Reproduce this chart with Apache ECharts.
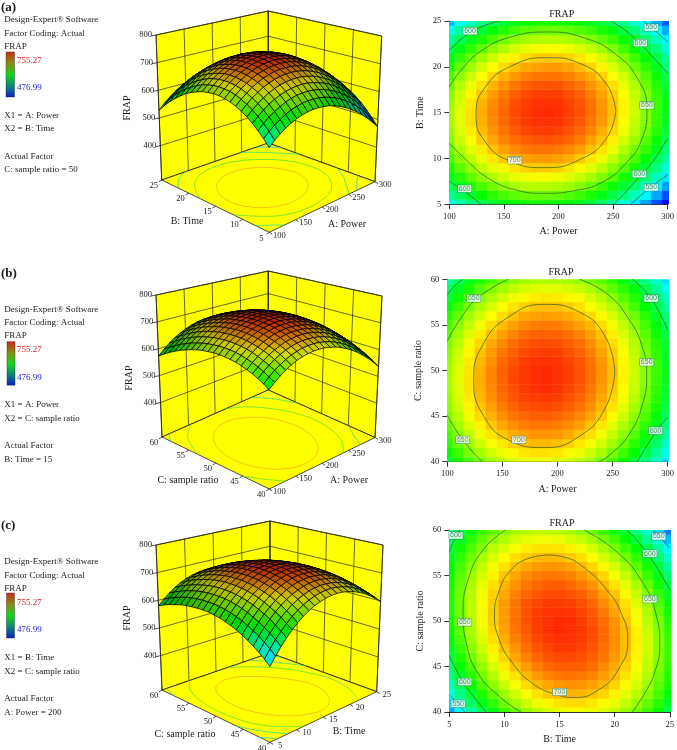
<!doctype html>
<html><head><meta charset="utf-8"><style>html,body{margin:0;background:#fff}#c{width:677px;height:750px}</style>
<script src="https://cdn.jsdelivr.net/npm/echarts@6/dist/echarts.min.js"></script></head><body><div id="c"></div><script>
const powerSamples=[100,110,120,130,140,150,160,170,180,190,200,210,220,230,240,250,260,270,280,290,300];
const timeSamples=[5,6,7,8,9,10,11,12,13,14,15,16,17,18,19,20,21,22,23,24,25];
const ratioSamples=[40,41,42,43,44,45,46,47,48,49,50,51,52,53,54,55,56,57,58,59,60];
const powerTicks=[100,150,200,250,300],timeTicks=[5,10,15,20,25],ratioTicks=[40,45,50,55,60],frapTicks=[400,500,600,700,800];
const frapMin=476.99,frapMax=755.27;
const palette=['#0000ff','#00ffff','#00ff00','#ffff00','#ff0000'];
const floorColors={700:'#f2b01e',650:'#5fe03c',600:'#2fdc8c',550:'#2fc8c8'};
// rows run along the second factor, columns along the first
const frapPowerTime=[
[551,568,582,594,604,612,618,621,623,622,619,615,607,598,587,573,558,540,520,498,474],
[573,590,604,616,627,635,640,644,646,645,643,638,631,622,611,597,582,564,544,522,498],
[592,609,624,636,646,655,661,665,666,666,663,659,652,643,632,619,603,586,566,544,520],
[609,626,641,654,664,672,678,682,684,684,682,677,670,662,651,638,622,605,585,564,540],
[624,641,656,669,679,688,694,698,700,700,698,693,687,678,667,654,639,622,602,581,557],
[636,653,668,681,692,700,707,711,713,713,711,707,700,692,681,668,653,636,617,595,572],
[646,663,678,691,702,711,717,722,724,724,722,718,712,703,693,680,665,648,629,608,584],
[653,671,686,699,710,719,725,730,732,733,731,727,721,712,702,689,674,658,639,617,594],
[658,676,691,704,715,724,731,736,738,739,737,733,727,719,708,696,681,665,646,625,602],
[661,678,694,707,718,727,734,739,742,742,741,737,731,723,713,700,686,669,651,630,607],
[661,679,694,708,719,728,735,740,743,744,742,738,733,725,715,702,688,672,653,632,609],
[658,676,692,706,717,726,734,739,742,742,741,737,732,724,714,702,688,672,653,632,610],
[654,672,688,701,713,722,730,735,738,739,738,734,729,721,711,699,685,669,651,630,607],
[646,665,681,694,706,715,723,729,732,733,732,728,723,715,706,694,680,664,646,625,603],
[637,655,671,685,697,707,714,720,723,724,723,720,715,708,698,686,673,657,638,618,596],
[625,643,659,674,686,695,703,709,712,713,713,710,704,697,688,676,662,646,629,609,586],
[610,629,645,660,672,682,689,695,699,700,699,697,692,684,675,664,650,634,617,597,575],
[593,612,629,643,655,665,673,679,683,684,684,681,676,669,660,649,635,620,602,582,560],
[574,593,610,624,637,647,655,661,665,666,665,663,659,652,643,631,618,603,585,565,544],
[552,571,588,603,615,626,634,640,644,646,645,643,638,632,623,612,599,583,566,546,524],
[528,547,564,579,592,602,611,617,621,623,623,620,616,609,600,590,576,561,544,525,503]];
const frapPowerRatio=[
[604,621,636,649,660,669,675,679,681,681,679,674,668,659,648,635,620,602,583,561,537],
[616,633,649,661,672,681,687,692,694,694,692,687,681,672,661,648,633,616,596,575,551],
[627,644,659,672,683,692,698,703,705,705,703,699,692,684,673,660,645,628,608,587,563],
[636,653,668,682,692,701,708,712,715,715,713,709,702,694,683,670,655,638,619,597,574],
[643,661,676,689,700,709,716,721,723,723,721,717,711,702,692,679,664,647,628,607,583],
[650,667,683,696,707,716,723,727,730,730,728,724,718,710,699,687,672,655,636,614,591],
[655,672,688,701,712,721,728,733,735,736,734,730,724,716,705,693,678,661,642,621,597],
[658,676,691,705,716,725,732,737,739,740,738,734,728,720,710,697,683,666,647,626,602],
[660,678,693,707,718,727,734,739,742,743,741,737,731,723,713,700,686,669,650,629,606],
[661,678,694,708,719,728,736,740,743,744,742,739,733,725,715,702,688,671,652,631,608],
[660,678,693,707,719,728,735,740,743,744,742,739,733,725,715,703,688,672,653,632,609],
[657,675,691,705,716,726,733,738,741,742,741,737,732,724,714,701,687,671,652,631,608],
[654,672,688,702,713,723,730,735,738,739,738,734,729,721,711,699,685,668,650,629,606],
[649,667,683,697,709,718,726,731,734,735,734,730,725,717,707,695,681,665,646,626,603],
[642,660,677,691,702,712,719,725,728,729,728,725,719,711,702,690,676,659,641,620,598],
[634,653,669,683,695,704,712,717,721,722,721,717,712,705,695,683,669,653,634,614,591],
[625,643,660,674,686,695,703,709,712,713,712,709,704,696,687,675,661,645,627,606,584],
[614,633,649,663,675,685,693,698,702,703,702,699,694,686,677,665,651,635,617,597,574],
[602,620,637,651,663,673,681,687,690,692,691,688,683,675,666,654,640,625,606,586,564],
[588,607,623,638,650,660,668,674,677,679,678,675,670,663,653,642,628,612,594,574,552],
[573,592,609,623,635,645,653,659,663,664,664,661,656,649,639,628,614,599,581,561,538]];
const frapTimeRatio=[
[522,549,573,595,614,631,646,658,668,675,680,683,683,681,676,669,659,648,633,617,598],
[539,565,589,610,629,646,660,672,681,688,693,695,695,692,687,680,670,658,643,626,607],
[554,580,603,624,643,659,673,684,693,700,704,706,705,702,697,689,679,667,652,634,615],
[567,593,616,637,655,671,684,695,704,710,714,716,715,711,706,697,687,674,659,641,621],
[579,604,627,648,665,681,694,705,713,719,722,724,722,719,713,704,693,680,664,646,626],
[590,615,637,657,675,690,703,713,721,727,730,730,729,725,718,709,698,685,669,650,629],
[599,624,646,665,683,697,710,720,727,733,735,736,734,729,723,713,702,688,671,653,631],
[607,631,653,672,689,703,715,725,732,737,740,740,737,733,725,716,704,689,673,654,632],
[613,637,659,677,694,708,720,729,736,740,742,742,739,734,727,717,704,690,673,653,631],
[619,642,663,681,697,711,723,731,738,742,744,743,740,735,727,716,704,689,671,651,629],
[622,645,666,684,700,713,724,733,739,742,744,743,739,733,725,715,702,686,668,648,625],
[625,647,667,685,700,713,724,733,738,741,742,741,737,731,722,711,698,682,664,643,620],
[625,647,667,685,700,713,723,732,736,739,739,738,734,727,718,707,693,677,658,637,614],
[624,646,666,683,698,710,720,727,732,735,735,733,729,722,712,701,687,670,651,630,606],
[622,644,663,680,694,706,715,723,727,730,730,727,722,715,705,693,679,662,642,621,597],
[619,640,659,675,689,701,710,717,721,723,722,720,714,707,697,684,669,652,632,610,586],
[614,635,653,669,683,694,703,709,713,715,714,711,705,697,687,674,659,641,621,599,574],
[607,628,646,662,675,686,694,700,704,705,704,700,694,686,675,662,647,629,608,585,560],
[600,620,637,653,666,676,684,690,693,694,693,689,682,674,662,649,633,615,594,571,545],
[591,610,628,643,655,665,673,678,681,682,680,675,669,660,648,634,618,599,578,555,529],
[580,599,616,631,643,653,660,665,668,668,666,661,654,645,633,618,602,583,561,537,511]];
// contour lines, [first factor, second factor]
const contoursA=[
{level:700,points:[[252.5,15.2],[244,18.1],[221,20.3],[190,21],[157,20.1],[133,17.8],[124.5,14.8],[133,11.8],[156,9.7],[187,9],[220,9.9],[244,12.2],[252.5,15.2]]},
{level:650,points:[[100,17.8],[112,19.8],[130,21.8],[155,23.2],[190,23.8],[225,23.1],[252,21.4],[272,18.8],[281,15.3],[276,12],[262,9.5],[240,7.4],[215,6.5],[187,6.2],[160,6.6],[135,7.9],[115,9.9],[100,11.65]]},
{level:600,points:[[100,21.8],[115,23.4],[130,24.4],[146,25]]},
{level:600,points:[[248,25],[262,23.9],[275,22.5],[287,21],[300,19.3]]},
{level:600,points:[[300,12.2],[286,9.6],[274,8],[262,6.4],[251,5]]},
{level:600,points:[[100,7.5],[114,6.4],[129,5]]},
{level:550,points:[[278,25],[288,24],[300,22.7]]},
{level:550,points:[[300,8.2],[285,6.9],[266,5]]}];
const contoursB=[
{level:700,points:[[252,49.85],[243.4,53.7],[220,56.4],[188,57.25],[156,55.9],[132.6,52.9],[124,48.95],[132.6,45.1],[156,42.35],[188,41.55],[220,42.8],[243.4,45.9],[252,49.85]]},
{level:650,points:[[100,53.2],[112,55.7],[128,58],[155.5,60]]},
{level:650,points:[[100,45.1],[114,42.4],[131.6,40]]},
{level:650,points:[[220,60],[245,58.4],[265,55.6],[277,52.6],[281,49.7],[277,46.2],[265,43],[250,41],[238,40]]},
{level:600,points:[[100,58.3],[107,59.3],[114,60]]},
{level:600,points:[[268,60],[285,57.9],[300,54.4]]},
{level:600,points:[[300,44.9],[289,43.2],[272.5,40]]}];
const contoursC=[
{level:700,points:[[14,57.25],[12,56.8],[10.45,55.4],[9.55,53.4],[9.1,50.8],[9.55,47.9],[10.75,45.35],[12.55,43.15],[14.5,42],[16.4,41.6],[18.5,42.4],[20.3,44.6],[21.2,47.9],[20.6,50.85],[19.3,53.4],[17.3,55.8],[15.5,57],[14,57.25]]},
{level:650,points:[[10.1,60],[8.05,57.8],[6.7,54.5],[6.25,50.8],[6.55,47.55],[7.6,44.25],[9.55,41.7],[11.5,40]]},
{level:650,points:[[17.2,60],[20,57.8],[22.4,54.5],[23.8,50.5],[24.1,47.4],[23.6,44.25],[22.7,42],[21.6,40]]},
{level:600,points:[[5,57.6],[5.65,59.45],[5.95,60]]},
{level:600,points:[[21.1,60],[23,57.4],[25,53.4]]},
{level:600,points:[[5,46.25],[6.25,43.3],[8.35,40]]},
{level:550,points:[[5,41.9],[5.8,40.9],[6.4,40]]},
{level:550,points:[[23.45,60],[24.2,59.1],[25,58]]}];
const contourLabelsA=[[119,23.9,600],[275,22.6,600],[285,24.3,550],[281,15.8,650],[160,9.8,700],[274,8.3,600],[114,6.7,600],[285,6.85,550]];
const contourLabelsB=[[124,57.9,650],[285,57.9,600],[281,50.9,650],[289,43.4,600],[114,42.4,650],[165,42.4,700]];
const contourLabelsC=[[5.6,59.4,600],[24,59.3,550],[23.2,57.4,600],[23.2,52.4,650],[6.4,49.85,650],[6.4,43.3,600],[5.8,40.9,550],[15,42.2,700]];

const SERIF='"Liberation Serif","Times New Roman",serif';
const panels=[
{tag:'(a)',tagY:8,lines:[['Design-Expert\u00ae Software',20],['Factor Coding: Actual',33.5],['FRAP',47],['X1 = A: Power',115.5],['X2 = B: Time',129],['Actual Factor',156.5],['C: sample ratio = 50',170]],
 bar:[6,52,8.5,45],hi:60.5,lo:88,
 F:[269.3,232.3],R:[375,181.7],L:[161.7,180],K:[268.3,143],FT:[269,71],RT:[381.7,36],LT:[156,35],KT:[268.3,11],zBase:276,
 grid:{left:449.3,top:21,width:221.4,height:183.3},xs:powerSamples,ys:timeSamples,z:frapPowerTime,uTicks:powerTicks,vTicks:timeTicks,contours:contoursA,labels:contourLabelsA,
 xName:'A: Power',yName:'B: Time',xT:[347,224],yT:[187,221.7],fT:[127,108],titleX:556.7,titleY:4},
{tag:'(b)',tagY:274,lines:[['Design-Expert\u00ae Software',309.5],['Factor Coding: Actual',323],['FRAP',336],['X1 = A: Power',405],['X2 = C: sample ratio',419],['Actual Factor',446],['B: Time = 15',459.5]],
 bar:[7,341.7,8,43.5],hi:350,lo:378,
 F:[269.3,489],R:[375,437.5],L:[162,437],K:[268.3,390],FT:[269,331],RT:[382,296],LT:[156,295],KT:[268.3,271],zBase:272,
 grid:{left:447.3,top:279.3,width:223.4,height:182.4},xs:powerSamples,ys:ratioSamples,z:frapPowerRatio,uTicks:powerTicks,vTicks:ratioTicks,contours:contoursB,labels:contourLabelsB,
 xName:'A: Power',yName:'C: sample ratio',xT:[349,480],yT:[188,480.5],fT:[129,378],titleX:556,titleY:262},
{tag:'(c)',tagY:526,lines:[['Design-Expert\u00ae Software',562],['Factor Coding: Actual',576],['FRAP',589],['X1 = B: Time',657.5],['X2 = C: sample ratio',671.5],['Actual Factor',699],['A: Power = 200',712.5]],
 bar:[6.5,593,8,45],hi:603,lo:630,
 F:[270,742.3],R:[376.7,691.7],L:[162,690],K:[270,653],FT:[270,581],RT:[383,545],LT:[156,545],KT:[270,521],zBase:276,
 grid:{left:449.3,top:530,width:222.7,height:182},xs:timeSamples,ys:ratioSamples,z:frapTimeRatio,uTicks:timeTicks,vTicks:ratioTicks,contours:contoursC,labels:contourLabelsC,
 xName:'B: Time',yName:'C: sample ratio',xT:[349,731.7],yT:[185,734],fT:[127,618],titleX:557,titleY:513}
];
const shade=z=>echarts.color.lerp(Math.max(0,Math.min(1,(z-frapMin)/(frapMax-frapMin))),palette);

function sceneItem(p){return function(params,api){
 const xr=[p.xs[0],p.xs[p.xs.length-1]],yr=[p.ys[0],p.ys[p.ys.length-1]];
 const bil=(a,b,c,d,u,v,k)=>(a[k]*(1-u)+b[k]*u)*(1-v)+(c[k]*(1-u)+d[k]*u)*v;
 const pr=(x,y,z)=>{const u=(x-xr[0])/(xr[1]-xr[0]),v=(y-yr[0])/(yr[1]-yr[0]),w=(z-p.zBase)/(800-p.zBase);
  const c=k=>bil(p.F,p.R,p.L,p.K,u,v,k)*(1-w)+bil(p.FT,p.RT,p.LT,p.KT,u,v,k)*w;
  return api.coord([c(0),c(1)]);};
 const at=q=>api.coord(q);
 const kids=[];
 const line=(pts,stroke,lw,smooth)=>kids.push({type:'polyline',silent:true,shape:{points:pts,smooth:smooth||0},style:{stroke,lineWidth:lw,fill:null}});
 const text=(t,q,o)=>{const c=at(q);kids.push({type:'text',silent:true,x:c[0],y:c[1],rotation:o&&o.rot||0,style:Object.assign({text:String(t),font:(o&&o.font)||('9px '+SERIF),fill:'#1a1a1a',align:'left',verticalAlign:'middle'},o&&o.style)});};
 const x0=xr[0],x1=xr[1],y0=yr[0],y1=yr[1];
 const poly=(pts,fill)=>kids.push({type:'polygon',silent:true,shape:{points:pts},style:{fill,stroke:'#000',lineWidth:.7}});
 poly([pr(x0,y1,p.zBase),pr(x1,y1,p.zBase),pr(x1,y1,800),pr(x0,y1,800)],'#ffff00');
 poly([pr(x1,y0,p.zBase),pr(x1,y1,p.zBase),pr(x1,y1,800),pr(x1,y0,800)],'#ffff00');
 poly([pr(x0,y0,p.zBase),pr(x1,y0,p.zBase),pr(x1,y1,p.zBase),pr(x0,y1,p.zBase)],'#ffff00');
 const wall='#2a2a10';
 frapTicks.forEach(z=>{line([pr(x0,y1,z),pr(x1,y1,z),pr(x1,y0,z)],wall,.7);
  const a=pr(x0,y1,z);kids.push({type:'line',silent:true,shape:{x1:a[0]-5,y1:a[1]+1,x2:a[0],y2:a[1]},style:{stroke:'#000',lineWidth:.7}});
  kids.push({type:'text',silent:true,x:a[0]-4,y:a[1],style:{text:String(z),font:'8.5px '+SERIF,fill:'#1a1a1a',align:'right',verticalAlign:'middle'}});});
 p.uTicks.forEach(t=>{line([pr(t,y1,p.zBase),pr(t,y1,800)],wall,.7);
  const a=pr(t,y0,p.zBase);kids.push({type:'line',silent:true,shape:{x1:a[0],y1:a[1],x2:a[0]+3,y2:a[1]+2},style:{stroke:'#000',lineWidth:.7}});
  kids.push({type:'text',silent:true,x:a[0]+10,y:a[1]+3,style:{text:String(t),font:'8.5px '+SERIF,fill:'#1a1a1a',align:'center',verticalAlign:'middle'}});});
 p.vTicks.forEach(t=>{line([pr(x1,t,p.zBase),pr(x1,t,800)],wall,.7);
  const a=pr(x0,t,p.zBase);kids.push({type:'line',silent:true,shape:{x1:a[0],y1:a[1],x2:a[0]-3,y2:a[1]+2},style:{stroke:'#000',lineWidth:.7}});
  kids.push({type:'text',silent:true,x:a[0]-8,y:a[1]+6,style:{text:String(t),font:'8.5px '+SERIF,fill:'#1a1a1a',align:'center',verticalAlign:'middle'}});});
 p.contours.forEach(c=>line(c.points.map(q=>pr(q[0],q[1],p.zBase)),floorColors[c.level],.8,.4));
 // surface, far cells first; far cells read darker as their mesh lines crowd together
 const n=p.xs.length;const cells=[];
 for(let i=0;i<n-1;i++)for(let j=0;j<n-1;j++)cells.push([i,j]);
 cells.sort((a,b)=>(b[0]+b[1])-(a[0]+a[1]));
 cells.forEach(([i,j])=>{const Z=p.z;const m=(Z[j][i]+Z[j][i+1]+Z[j+1][i]+Z[j+1][i+1])/4;
  const dark=.08+.52*(i+j)/(2*n-4);
  kids.push({type:'polygon',silent:true,shape:{points:[pr(p.xs[i],p.ys[j],Z[j][i]),pr(p.xs[i+1],p.ys[j],Z[j][i+1]),pr(p.xs[i+1],p.ys[j+1],Z[j+1][i+1]),pr(p.xs[i],p.ys[j+1],Z[j+1][i])]},style:{fill:echarts.color.lerp(dark,[shade(m),'#000000']),stroke:'#000',lineWidth:.75}});});
 // captions
 text(p.xName,p.xT,{font:'10px '+SERIF,style:{align:'center'}});
 text(p.yName,p.yT,{font:'10px '+SERIF,style:{align:'center'}});
 text('FRAP',p.fT,{font:'10px '+SERIF,rot:Math.PI/2,style:{align:'center'}});
 text(p.tag,[1,p.tagY],{font:'bold 13px '+SERIF});
 p.lines.forEach(l=>text(l[0],[4.3,l[1]]));
 const b0=at([p.bar[0],p.bar[1]]),b1=at([p.bar[0]+p.bar[2],p.bar[1]+p.bar[3]]);
 kids.push({type:'rect',silent:true,shape:{x:b0[0],y:b0[1],width:b1[0]-b0[0],height:b1[1]-b0[1]},style:{stroke:'#223',lineWidth:.4,fill:new echarts.graphic.LinearGradient(0,0,0,1,[{offset:0,color:'#d02a12'},{offset:.25,color:'#8a8a10'},{offset:.5,color:'#12d818'},{offset:.75,color:'#0a8a70'},{offset:1,color:'#0a20c8'}])}});
 text('755.27',[17,p.hi],{style:{fill:'#d2232a'}});
 text('476.99',[17,p.lo],{style:{fill:'#2323cc'}});
 return {type:'group',children:kids};
};}

const grids=[],xAxis=[],yAxis=[],series=[],titles=[];
panels.forEach((p,k)=>{
 grids.push(p.grid);
 const sx=p.xs[1]-p.xs[0],sy=p.ys[1]-p.ys[0];
 const tickStyle={color:'#1a1a1a',fontFamily:SERIF,fontSize:8.5};
 const axisCommon={type:'value',splitLine:{show:false},axisLine:{show:true,onZero:false,lineStyle:{color:'#000',width:.8}},axisTick:{show:true,length:5,lineStyle:{color:'#000',width:.8}},axisLabel:tickStyle,nameLocation:'middle',nameTextStyle:{color:'#1a1a1a',fontFamily:SERIF,fontSize:10}};
 xAxis.push(Object.assign({},axisCommon,{gridIndex:k,min:p.xs[0],max:p.xs[20],interval:p.xs[5]-p.xs[0],name:p.xName,nameGap:22.5}));
 yAxis.push(Object.assign({},axisCommon,{gridIndex:k,min:p.ys[0],max:p.ys[20],interval:p.ys[5]-p.ys[0],name:p.yName,nameGap:24}));
 const data=[];p.z.forEach((row,j)=>row.forEach((v,i)=>data.push([p.xs[i],p.ys[j],v])));
 series.push({type:'custom',xAxisIndex:k,yAxisIndex:k,data,clip:true,silent:true,encode:{x:0,y:1},renderItem(params,api){
   const x=api.value(0),y=api.value(1);const a=api.coord([x-sx/2,y+sy/2]),b=api.coord([x+sx/2,y-sy/2]);const col=api.visual('color');
   return {type:'rect',shape:{x:a[0],y:a[1],width:b[0]-a[0],height:b[1]-a[1]},style:{fill:col,stroke:col,lineWidth:.5}};}});
 titles.push({text:'FRAP',left:p.titleX,top:p.titleY,textAlign:'center',textStyle:{fontFamily:SERIF,fontSize:10,fontWeight:'normal',color:'#1a1a1a'}});
});
panels.forEach((p,k)=>{
 p.contours.forEach(c=>series.push({type:'line',xAxisIndex:k,yAxisIndex:k,data:c.points,smooth:.5,showSymbol:false,clip:true,silent:true,lineStyle:{color:'#2f5a2a',width:.7},z:3}));
 series.push({type:'scatter',xAxisIndex:k,yAxisIndex:k,data:p.labels,symbolSize:1,itemStyle:{color:'transparent'},silent:true,z:4,
  label:{show:true,position:'inside',formatter:d=>String(d.value[2]),fontSize:7,fontFamily:'Liberation Sans',color:'#1f6f55',backgroundColor:'#ffffff',borderColor:'#1f7f5f',borderWidth:.5,padding:[0,1]}});
});
grids.push({left:0,top:0,width:677,height:750,show:false});
xAxis.push({type:'value',gridIndex:3,min:0,max:677,show:false});
yAxis.push({type:'value',gridIndex:3,min:0,max:750,inverse:true,show:false});
panels.forEach(p=>series.push({type:'custom',xAxisIndex:3,yAxisIndex:3,data:[[0,0]],clip:false,silent:true,renderItem:sceneItem(p)}));

const chart=echarts.init(document.getElementById('c'),null,{renderer:'canvas'});
chart.setOption({animation:false,backgroundColor:'#fff',title:titles,grid:grids,xAxis,yAxis,series,tooltip:{show:false},
 visualMap:{show:false,type:'continuous',seriesIndex:[0,1,2],dimension:2,min:frapMin,max:frapMax,inRange:{color:palette}}});
</script></body></html>
